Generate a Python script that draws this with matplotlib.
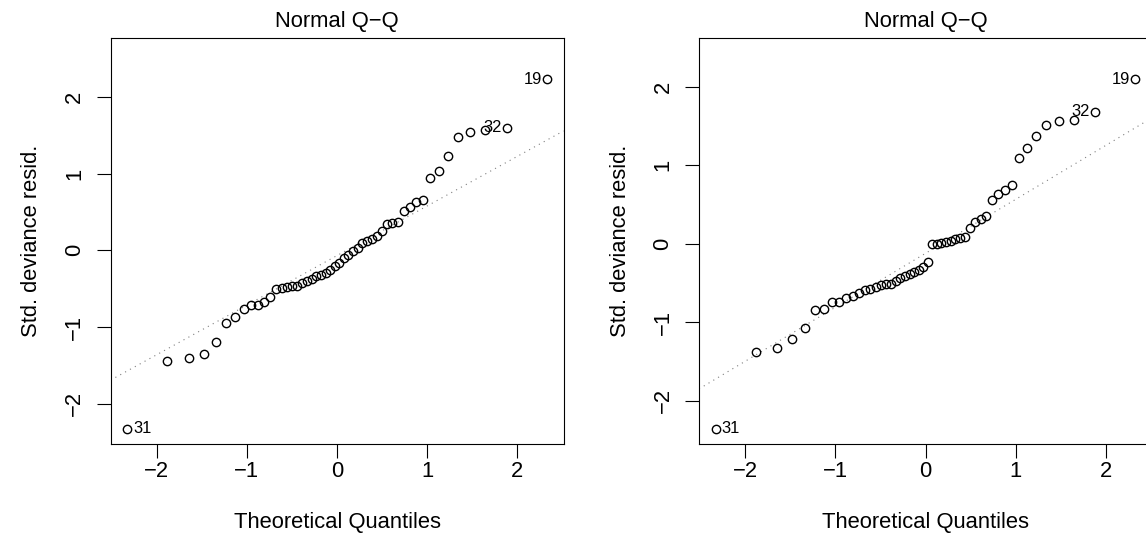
import numpy as np
import matplotlib.pyplot as plt

plt.rcParams['font.family'] = ['Liberation Sans', 'DejaVu Sans']

# theoretical normal quantiles for n = 50 (ppoints)
theo_q = [-2.326, -1.881, -1.645, -1.476, -1.341, -1.227, -1.126, -1.036, -0.954, -0.878,
          -0.806, -0.739, -0.674, -0.613, -0.553, -0.496, -0.440, -0.385, -0.332, -0.279,
          -0.228, -0.176, -0.126, -0.075, -0.025, 0.025, 0.075, 0.126, 0.176, 0.228,
          0.279, 0.332, 0.385, 0.440, 0.496, 0.553, 0.613, 0.674, 0.739, 0.806,
          0.878, 0.954, 1.036, 1.126, 1.227, 1.341, 1.476, 1.645, 1.881, 2.326]

# sorted std. deviance residuals, left model
resid_left = [-2.33, -1.45, -1.41, -1.35, -1.20, -0.95, -0.87, -0.77, -0.72, -0.71,
              -0.67, -0.61, -0.51, -0.49, -0.48, -0.47, -0.46, -0.43, -0.40, -0.37,
              -0.34, -0.32, -0.29, -0.26, -0.21, -0.16, -0.10, -0.06, -0.01, 0.03,
              0.09, 0.12, 0.15, 0.18, 0.25, 0.34, 0.36, 0.37, 0.51, 0.56,
              0.63, 0.65, 0.94, 1.03, 1.23, 1.48, 1.54, 1.57, 1.60, 2.23]

# sorted std. deviance residuals, right model
resid_right = [-2.36, -1.385, -1.334, -1.21, -1.076, -0.85, -0.835, -0.737, -0.737, -0.695,
               -0.665, -0.623, -0.59, -0.572, -0.55, -0.53, -0.51, -0.51, -0.475, -0.44,
               -0.41, -0.39, -0.36, -0.335, -0.30, -0.23, -0.005, 0.0, 0.004, 0.02,
               0.04, 0.055, 0.07, 0.09, 0.20, 0.28, 0.32, 0.35, 0.56, 0.63,
               0.68, 0.75, 1.09, 1.215, 1.376, 1.51, 1.567, 1.58, 1.68, 2.097]

# labelled points: position in sorted order and observation number
label_rank = [0, 48, 49]
label_id = ["31", "32", "19"]

title = "Normal Q\u2212Q"
xlab = "Theoretical Quantiles"
ylab = "Std. deviance resid."
ticks = [-2, -1, 0, 1, 2]

FS = 15.8
W, H = 1146, 551


def qq_panel(ax, resid):
    x = np.array(theo_q)
    y = np.array(resid)

    # reference line through the quartiles (like R's qqline)
    q1, q3 = np.quantile(y, [0.25, 0.75])
    z = 0.6745
    slope = (q3 - q1) / (2 * z)
    icpt = q1 + slope * z
    ax.axline((0, icpt), slope=slope, ls=(0, (1, 4)), color='#7f7f7f', lw=0.8)

    ax.plot(x, y, 'o', mfc='none', mec='black', ms=6, mew=1.0, clip_on=False)

    # limits the way plot.lm does it
    lo, hi = y.min(), y.max()
    hi2 = hi + (hi - lo) * 0.075
    pad = (hi2 - lo) * 0.04
    ax.set_ylim(lo - pad, hi2 + pad)
    xpad = (x.max() - x.min()) * 0.04
    ax.set_xlim(x.min() - xpad, x.max() + xpad)

    for r, lab in zip(label_rank, label_id):
        if x[r] < 0:
            dx, ha = 6, 'left'
        else:
            dx, ha = -5, 'right'
        ax.annotate(lab, (x[r], y[r]), xytext=(dx, 0), textcoords='offset pixels',
                    ha=ha, va='center', fontsize=FS * 0.75)

    ax.set_xticks(ticks)
    ax.set_yticks(ticks)
    ax.set_xticklabels([f"{t}".replace('-', '\u2212') for t in ticks])
    ax.set_yticklabels([f"{t}".replace('-', '\u2212') for t in ticks])
    ax.tick_params(length=9.9, width=0.8, direction='out', labelsize=FS)
    ax.tick_params(axis='x', pad=2)
    ax.tick_params(axis='y', pad=12)
    for lb in ax.get_yticklabels():
        lb.set_rotation(90)
        lb.set_rotation_mode('anchor')
        lb.set_ha('center')
        lb.set_va('baseline')
    for sp in ax.spines.values():
        sp.set_linewidth(0.8)

    ax.set_title(title, fontsize=FS, y=1.027, pad=0, va='baseline')
    ax.set_xlabel(xlab, fontsize=FS, va='baseline')
    ax.xaxis.set_label_coords(0.5, -(528 - 444) / 406)
    ax.set_ylabel(ylab, fontsize=FS, va='baseline', rotation_mode='anchor')
    ax.yaxis.set_label_coords(-(111 - 38) / 453, 0.5)


fig = plt.figure(figsize=(W / 100, H / 100), dpi=100)
ax1 = fig.add_axes([110.5 / W, (H - 444) / H, 453 / W, 406 / H])
ax2 = fig.add_axes([699 / W, (H - 444) / H, 453 / W, 406 / H])
qq_panel(ax1, resid_left)
qq_panel(ax2, resid_right)

fig.savefig('out.png', dpi=100)
